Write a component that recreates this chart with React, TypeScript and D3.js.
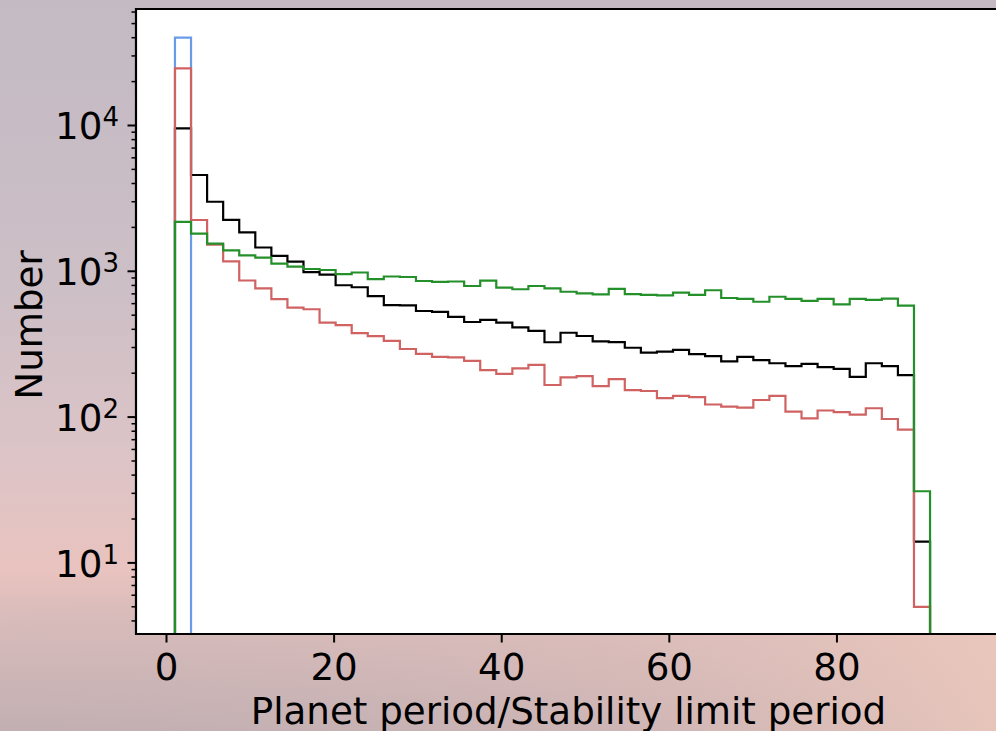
import React from "react";
import * as d3 from "d3";

// ---- data ----
const BIN_LO = 1.01;
const BIN_HI = 91.11;
const N_BINS = 47;

const blueCounts = [
  40000, 0, 0, 0, 0, 0, 0, 0, 0, 0, 0, 0, 0, 0, 0, 0, 0, 0, 0, 0, 0, 0, 0, 0,
  0, 0, 0, 0, 0, 0, 0, 0, 0, 0, 0, 0, 0, 0, 0, 0, 0, 0, 0, 0, 0, 0, 0,
];
const blackCounts = [
  9570, 4575, 3000, 2250, 1850, 1456, 1277, 1164, 986, 948, 802, 777, 675, 587,
  583, 534, 526, 487, 449, 465, 445, 412, 390, 326, 379, 360, 331, 327, 299,
  277, 281, 289, 270, 262, 241, 259, 246, 234, 224, 232, 220, 214, 189, 234,
  224, 194, 14,
];
const redCounts = [
  24660, 2248, 1521, 1171, 865, 764, 644, 563, 549, 444, 428, 377, 359, 333,
  293, 271, 259, 257, 243, 210, 198, 216, 228, 166, 187, 191, 163, 182, 153,
  151, 135, 140, 137, 122, 118, 116, 131, 140, 109, 98, 111, 108, 104, 115, 97,
  82, 5,
];
const greenCounts = [
  2180, 1810, 1546, 1393, 1284, 1240, 1127, 1076, 1037, 1021, 955, 981, 883,
  921, 914, 858, 845, 851, 793, 862, 772, 753, 793, 764, 724, 706, 695, 757,
  698, 688, 684, 713, 688, 741, 656, 646, 618, 669, 646, 626, 646, 594, 646,
  636, 649, 581, 31,
];

const xTickValues = [0, 20, 40, 60, 80];
const xLabel = "Planet period/Stability limit period";
const yLabel = "Number";

// ---- layout ----
const W = 996;
const H = 731;
const PL = 136;
const PR = 996;
const PT = 9;
const PB = 634;
const FONT = "DejaVu Sans, Verdana, sans-serif";
const FS = 37.2;

const x = d3.scaleLinear().domain([-3.64, 98.98]).range([PL, PR]);
const y = d3
  .scaleLog()
  .domain([Math.pow(10, 0.5123), Math.pow(10, 4.799)])
  .range([PB, PT])
  .clamp(true);

const edges = d3.range(N_BINS + 1).map((i) => BIN_LO + (i * (BIN_HI - BIN_LO)) / N_BINS);

function stepPath(counts: number[]): string {
  const pts: [number, number][] = [];
  const yy = (v: number) => (v > 0 ? y(v) : PB);
  pts.push([x(edges[0]), PB]);
  counts.forEach((v, i) => {
    pts.push([x(edges[i]), yy(v)]);
    pts.push([x(edges[i + 1]), yy(v)]);
  });
  pts.push([x(edges[N_BINS]), PB]);
  return d3.line()(pts) || "";
}

const series = [
  { name: "blue", counts: blueCounts, color: "#6a9be8" },
  { name: "black", counts: blackCounts, color: "#000000" },
  { name: "red", counts: redCounts, color: "#d06262" },
  { name: "green", counts: greenCounts, color: "#24902a" },
];

export default function App() {
  const yTicks = y.ticks();
  const isMajor = (t: number) => Math.abs(Math.log10(t) - Math.round(Math.log10(t))) < 1e-9;
  return (
    <svg
      width={W}
      height={H}
      style={{ position: "absolute", left: 0, top: 0, display: "block" }}
      fontFamily={FONT}
    >
      <defs>
        <linearGradient id="bg" x1="0" y1="0" x2="0" y2="1">
          <stop offset="0" stopColor="#c3bac4" />
          <stop offset="0.4" stopColor="#cdbfc6" />
          <stop offset="0.62" stopColor="#dcc4c7" />
          <stop offset="0.78" stopColor="#e9c3bf" />
          <stop offset="0.84" stopColor="#d9bcbb" />
          <stop offset="1" stopColor="#c2afb2" />
        </linearGradient>
        <linearGradient id="bgh" x1="0" y1="0" x2="1" y2="0">
          <stop offset="0" stopColor="#c9b4b6" stopOpacity="0" />
          <stop offset="0.6" stopColor="#e6c2bb" stopOpacity="0.3" />
          <stop offset="1" stopColor="#efcabd" stopOpacity="0.8" />
        </linearGradient>
        <clipPath id="plot">
          <rect x={PL} y={PT} width={PR - PL} height={PB - PT} />
        </clipPath>
      </defs>
      <rect x={0} y={0} width={W} height={H} fill="url(#bg)" />
      <rect x={0} y={600} width={W} height={H - 600} fill="url(#bgh)" />
      <rect x={PL} y={PT} width={PR - PL} height={PB - PT} fill="#ffffff" />

      <g clipPath="url(#plot)">
        {series.map((s) => (
          <path
            key={s.name}
            d={stepPath(s.counts)}
            fill="none"
            stroke={s.color}
            strokeWidth={2.2}
            strokeLinejoin="miter"
          />
        ))}
      </g>

      {/* spines */}
      <g stroke="#000" strokeWidth={2.2} fill="none">
        <line x1={PL} x2={PR} y1={PT} y2={PT} />
        <line x1={PL} x2={PR} y1={PB} y2={PB} />
        <line x1={PL} x2={PL} y1={PT - 1.1} y2={PB + 1.1} />
      </g>

      {/* y ticks */}
      {yTicks.map((t, i) => {
        const major = isMajor(t);
        const yy = y(t);
        return (
          <g key={"yt" + i}>
            <line
              x1={PL}
              x2={PL - (major ? 8.5 : 4.5)}
              y1={yy}
              y2={yy}
              stroke="#000"
              strokeWidth={major ? 2 : 1.5}
            />
            {major && (
              <text x={119} y={yy + 14} textAnchor="end" fontSize={FS} fill="#000">
                <tspan>10</tspan>
                <tspan dy={-13} fontSize={FS * 0.7}>
                  {String(Math.round(Math.log10(t)))}
                </tspan>
              </text>
            )}
          </g>
        );
      })}

      {/* x ticks */}
      {xTickValues.map((t) => (
        <g key={"xt" + t}>
          <line x1={x(t)} x2={x(t)} y1={PB} y2={PB + 8.5} stroke="#000" strokeWidth={2} />
          <text x={x(t)} y={680} textAnchor="middle" fontSize={FS} fill="#000">
            {t}
          </text>
        </g>
      ))}

      <text x={568.5} y={723.7} textAnchor="middle" fontSize={FS} fill="#000">
        {xLabel}
      </text>
      <text
        transform={`translate(42, 325) rotate(-90)`}
        textAnchor="middle"
        fontSize={FS}
        fill="#000"
      >
        {yLabel}
      </text>
    </svg>
  );
}
